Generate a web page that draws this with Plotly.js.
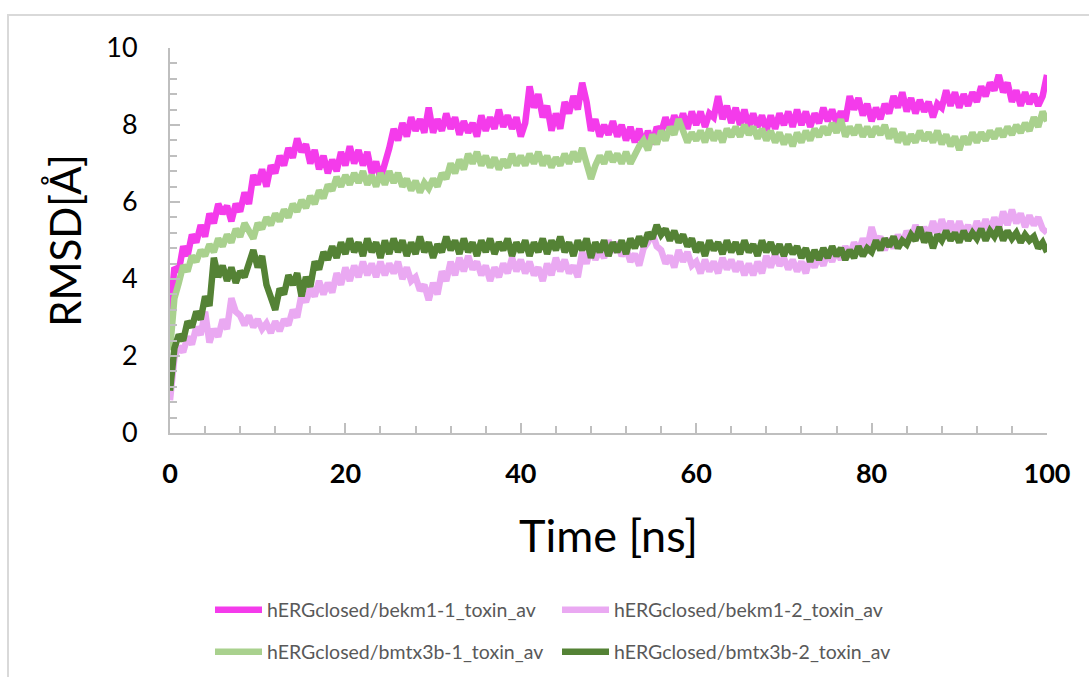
<!DOCTYPE html>
<html><head><meta charset="utf-8">
<script src="https://cdn.plot.ly/plotly-3.0.1.min.js"></script>
<style>
html,body{margin:0;padding:0;background:#fff;overflow:hidden;}
#frame{position:absolute;left:7px;top:14px;width:1100px;height:700px;border-left:2px solid #d9d9d9;border-top:2px solid #d9d9d9;}
#chart{position:absolute;left:0;top:0;width:1089px;height:677px;}
</style>
</head><body><div id="frame"></div><div id="chart"></div>
<script>
// time axis: one sample every 0.5 ns, 0..100 ns
const time = Array.from({length: 201}, (_, i) => i * 0.5);

const seriesNames = [
  'hERGclosed/bekm1-1_toxin_av',
  'hERGclosed/bekm1-2_toxin_av',
  'hERGclosed/bmtx3b-1_toxin_av',
  'hERGclosed/bmtx3b-2_toxin_av'
];

const bekm1_1 = [
  3.0, 4.3, 4.2, 4.85, 4.6, 5.15, 4.95, 5.4, 5.1, 5.7, 5.45, 5.95, 5.7, 5.9, 5.5, 5.95, 5.75, 6.25, 5.95, 6.7,
  6.45, 6.85, 6.4, 6.95, 6.75, 7.2, 6.95, 7.4, 7.15, 7.65, 7.3, 7.5, 7.0, 7.35, 6.85, 7.2, 6.75, 7.1, 6.8, 7.3,
  6.95, 7.45, 7.0, 7.35, 6.95, 7.3, 6.75, 7.05, 6.6, 6.95, 7.4, 7.9, 7.6, 8.05, 7.7, 8.2, 7.85, 8.15, 7.8, 8.45,
  7.8, 8.15, 7.85, 8.3, 7.9, 8.2, 7.75, 8.1, 7.8, 8.05, 7.7, 8.25, 7.85, 8.2, 7.9, 8.4, 7.95, 8.25, 7.9, 8.2,
  7.7, 8.05, 9.0, 8.45, 8.8, 8.2, 8.5, 7.85, 8.3, 7.9, 8.6, 8.3, 8.75, 8.4, 9.1, 8.6, 7.85, 8.15, 7.7, 8.0,
  7.75, 8.1, 7.7, 8.0, 7.6, 7.95, 7.55, 7.9, 7.45, 7.85, 7.5, 7.95, 7.8, 8.2, 7.85, 8.25, 7.95, 8.3, 7.9, 8.35,
  8.0, 8.35, 7.95, 8.3, 8.2, 8.75, 8.15, 8.5, 8.05, 8.45, 8.0, 8.4, 7.95, 8.3, 7.95, 8.25, 7.85, 8.25, 7.9, 8.3,
  8.0, 8.35, 7.95, 8.4, 8.0, 8.35, 7.95, 8.3, 8.05, 8.45, 8.1, 8.4, 8.05, 8.35, 8.1, 8.75, 8.4, 8.7, 8.25, 8.55,
  8.1, 8.45, 8.15, 8.55, 8.3, 8.75, 8.45, 8.85, 8.35, 8.7, 8.3, 8.65, 8.35, 8.6, 8.2, 8.55, 8.45, 8.9, 8.5, 8.85,
  8.45, 8.8, 8.5, 8.85, 8.6, 9.0, 8.75, 9.1, 8.9, 9.3, 8.85, 9.1, 8.6, 8.9, 8.5, 8.85, 8.55, 8.8, 8.5, 8.75, 9.3
];

const bekm1_2 = [
  0.85, 1.95, 2.25, 2.1, 2.5, 2.3, 2.75, 2.55, 3.15, 2.35, 2.7, 2.5, 2.95, 2.7, 3.5, 3.15, 3.05, 2.8, 3.05, 2.75,
  2.95, 2.7, 2.85, 2.6, 2.9, 2.65, 2.95, 2.8, 3.2, 3.0, 3.6, 3.4, 3.75, 3.55, 3.95, 3.6, 3.9, 3.65, 4.15, 3.85,
  4.3, 3.95, 4.35, 4.05, 4.45, 4.1, 4.4, 4.05, 4.45, 4.1, 4.4, 4.15, 4.45, 4.0, 4.3, 3.95, 4.05, 3.7, 3.85, 3.45,
  3.9, 3.6, 4.2, 3.95, 4.45, 4.1, 4.55, 4.2, 4.6, 4.25, 4.45, 4.1, 4.35, 3.95, 4.3, 4.05, 4.4, 4.15, 4.55, 4.2,
  4.5, 4.15, 4.45, 4.1, 4.3, 3.95, 4.4, 4.1, 4.55, 4.2, 4.5, 4.15, 4.35, 4.05, 4.7, 4.4, 4.85, 4.5, 4.75, 4.55,
  5.0, 4.7, 4.95, 4.6, 4.8, 4.45, 4.65, 4.35, 4.8, 4.95, 5.2, 4.85, 4.75, 4.4, 4.6, 4.3, 4.75, 4.45, 4.7, 4.35,
  4.45, 4.15, 4.5, 4.2, 4.45, 4.15, 4.55, 4.25, 4.5, 4.2, 4.45, 4.1, 4.4, 4.1, 4.45, 4.15, 4.6, 4.3, 4.65, 4.35,
  4.55, 4.25, 4.5, 4.2, 4.45, 4.15, 4.55, 4.3, 4.6, 4.35, 4.7, 4.45, 4.75, 4.5, 4.85, 4.6, 4.95, 4.7, 5.05, 4.8,
  5.35, 4.95, 5.1, 4.75, 5.05, 4.8, 5.15, 4.9, 5.25, 5.0, 5.4, 5.05, 5.35, 5.1, 5.5, 5.15, 5.55, 5.2, 5.5, 5.15,
  5.5, 5.15, 5.4, 5.1, 5.5, 5.2, 5.55, 5.25, 5.6, 5.3, 5.75, 5.4, 5.8, 5.45, 5.7, 5.35, 5.65, 5.4, 5.6, 5.3, 5.2
];

const bmtx3b_1 = [
  2.15, 3.5, 3.9, 4.35, 4.2, 4.6, 4.45, 4.75, 4.6, 4.9, 4.7, 5.05, 4.85, 5.15, 4.95, 5.3, 5.1, 5.45, 5.25, 5.05,
  5.45, 5.3, 5.6, 5.4, 5.7, 5.5, 5.8, 5.6, 5.95, 5.75, 6.05, 5.85, 6.15, 5.95, 6.3, 6.1, 6.45, 6.3, 6.65, 6.4,
  6.7, 6.45, 6.75, 6.5, 6.8, 6.45, 6.7, 6.4, 6.75, 6.45, 6.8, 6.5, 6.75, 6.4, 6.6, 6.3, 6.55, 6.25, 6.5, 6.35,
  6.6, 6.4, 6.75, 6.6, 7.0, 6.75, 7.1, 6.85, 7.25, 7.0, 7.3, 6.95, 7.2, 6.9, 7.15, 6.85, 7.1, 6.9, 7.25, 6.95,
  7.2, 6.95, 7.25, 7.0, 7.3, 6.95, 7.2, 6.9, 7.15, 6.95, 7.25, 7.0, 7.3, 7.05, 7.4, 7.0, 6.6, 6.95, 7.2, 7.0,
  7.3, 7.05, 7.25, 7.0, 7.3, 7.0, 7.25, 7.45, 7.6, 7.35, 7.75, 7.5, 7.85, 7.6, 7.95, 7.75, 8.15, 7.8, 7.55, 7.8,
  7.6, 7.85, 7.55, 7.9, 7.6, 7.85, 7.55, 7.9, 7.7, 7.95, 7.7, 8.0, 7.75, 7.95, 7.65, 7.9, 7.6, 7.85, 7.55, 7.8,
  7.5, 7.75, 7.45, 7.8, 7.55, 7.85, 7.6, 7.9, 7.7, 7.95, 7.75, 8.05, 7.8, 8.15, 7.7, 7.95, 7.75, 8.0, 7.7, 7.95,
  7.7, 7.95, 7.75, 8.0, 7.65, 7.9, 7.55, 7.8, 7.5, 7.75, 7.55, 7.85, 7.6, 7.8, 7.55, 7.85, 7.5, 7.75, 7.45, 7.7,
  7.35, 7.7, 7.5, 7.8, 7.55, 7.8, 7.6, 7.85, 7.65, 7.9, 7.7, 7.95, 7.75, 8.0, 7.8, 8.05, 7.85, 8.2, 7.95, 8.35, 8.1
];

const bmtx3b_2 = [
  1.1, 2.2, 2.55, 2.4, 2.9, 2.75, 3.15, 2.95, 3.55, 3.3, 4.55, 4.05, 4.35, 3.95, 4.3, 3.9, 4.2, 4.05, 4.4, 4.75,
  4.3, 4.6, 3.85, 3.45, 3.2, 3.75, 3.6, 4.1, 3.85, 4.15, 3.55, 4.05, 3.8, 4.45, 4.25, 4.7, 4.5, 4.85, 4.55, 4.95,
  4.65, 5.05, 4.7, 4.95, 4.6, 5.05, 4.7, 4.95, 4.55, 5.0, 4.65, 5.05, 4.7, 5.0, 4.6, 4.95, 4.65, 5.1, 4.7, 4.95,
  4.55, 4.9, 4.7, 5.1, 4.75, 5.0, 4.65, 5.05, 4.7, 4.95, 4.6, 5.0, 4.7, 5.05, 4.65, 4.95, 4.75, 5.05, 4.6, 4.95,
  4.7, 5.0, 4.6, 4.95, 4.7, 5.05, 4.65, 5.0, 4.75, 5.1, 4.7, 4.95, 4.6, 5.0, 4.75, 5.05, 4.55, 4.95, 4.7, 5.0,
  4.6, 4.95, 4.7, 5.0, 4.65, 5.05, 4.8, 5.1, 4.85, 5.2, 5.05, 5.4, 5.15, 5.3, 5.0, 5.25, 4.95, 5.15, 4.85, 5.05,
  4.7, 4.95, 4.6, 5.0, 4.75, 4.95, 4.65, 5.0, 4.7, 4.95, 4.65, 5.0, 4.7, 4.9, 4.6, 5.0, 4.7, 4.95, 4.65, 4.9,
  4.6, 4.9, 4.65, 4.85, 4.55, 4.8, 4.45, 4.75, 4.5, 4.8, 4.55, 4.85, 4.6, 4.8, 4.5, 4.75, 4.55, 4.85, 4.6, 4.8,
  4.7, 5.0, 4.75, 5.05, 4.85, 5.1, 4.8, 5.0, 4.9, 5.15, 5.0, 5.35, 4.95, 5.2, 4.8, 5.15, 5.0, 5.25, 5.0, 5.2,
  4.95, 5.25, 5.0, 5.2, 5.05, 5.3, 5.0, 5.25, 5.1, 5.35, 5.0, 5.25, 5.05, 5.2, 4.95, 5.15, 5.0, 5.1, 4.8, 4.95, 4.7
];

const colors = ['#F43BEB', '#EAA9F2', '#A9D18E', '#548235'];
const values = [bekm1_1, bekm1_2, bmtx3b_1, bmtx3b_2];
const legends = ['legend', 'legend', 'legend2', 'legend2'];

const FONT = 'Lato, "Open Sans", sans-serif';

const traces = values.map((v, k) => ({
  type: 'scatter', mode: 'lines',
  x: time, y: v,
  name: seriesNames[k],
  legend: legends[k],
  line: {color: colors[k], width: 6.5}
}));

const axisGray = '#BFBFBF';
const legendCommon = {
  orientation: 'h', xref: 'container', yref: 'container',
  xanchor: 'left', yanchor: 'middle',
  itemwidth: 47, entrywidth: 285, entrywidthmode: 'pixels',
  bgcolor: 'rgba(0,0,0,0)', borderwidth: 0,
  font: {family: FONT, size: 19.5, color: '#595959'},
  traceorder: 'normal'
};

const layout = {
  width: 1089, height: 677,
  paper_bgcolor: 'rgba(0,0,0,0)', plot_bgcolor: 'rgba(0,0,0,0)',
  margin: {l: 170, r: 42, t: 48, b: 244},
  showlegend: true,
  xaxis: {
    range: [0, 100], tick0: 0, dtick: 20,
    ticks: 'inside', ticklen: 10, tickwidth: 2, tickcolor: axisGray,
    showline: true, linecolor: axisGray, linewidth: 2,
    showgrid: false, zeroline: false,
    minor: {dtick: 4, ticks: 'inside', ticklen: 7, tickwidth: 2, tickcolor: axisGray, showgrid: false},
    tickfont: {family: FONT, size: 27, color: '#000', weight: 'bold'},
    ticklabelstandoff: 16,
    title: {text: 'Time [ns]', font: {family: FONT, size: 45, color: '#000'}, standoff: 32}
  },
  yaxis: {
    range: [0, 10], tick0: 0, dtick: 2,
    ticks: 'inside', ticklen: 10, tickwidth: 2, tickcolor: axisGray,
    showline: true, linecolor: axisGray, linewidth: 2,
    showgrid: false, zeroline: false,
    minor: {dtick: 0.4, ticks: 'inside', ticklen: 7, tickwidth: 2, tickcolor: axisGray, showgrid: false},
    tickfont: {family: FONT, size: 27, color: '#000'},
    ticklabelstandoff: 25,
    title: {text: 'RMSD[Å]', font: {family: FONT, size: 42, color: '#000'}, standoff: 12}
  },
  legend: Object.assign({}, legendCommon, {x: 210 / 1089, y: 1 - 610 / 677}),
  legend2: Object.assign({}, legendCommon, {x: 210 / 1089, y: 1 - 652 / 677})
};

Plotly.newPlot('chart', traces, layout, {displayModeBar: false, staticPlot: true});
</script></body></html>
